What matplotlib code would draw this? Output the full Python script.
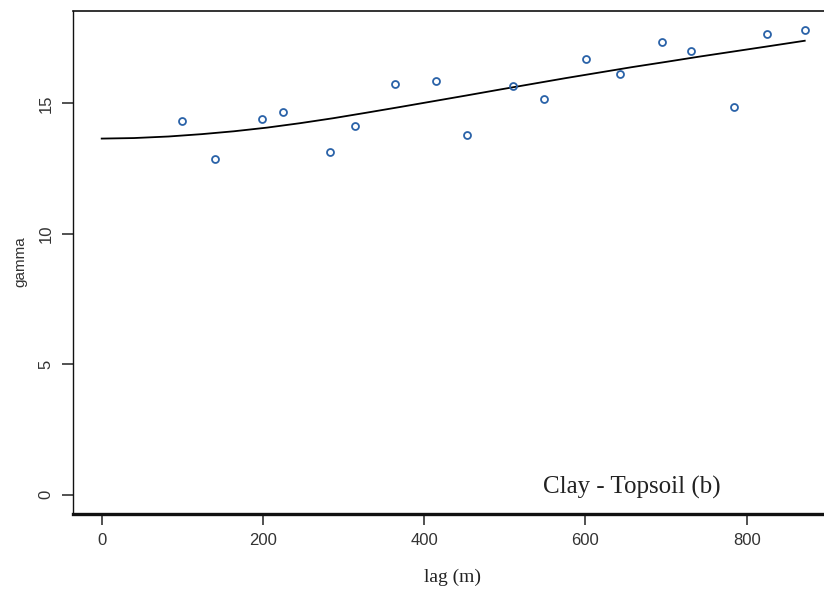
import matplotlib
matplotlib.use("Agg")
import matplotlib.pyplot as plt

# sample variogram points
lag = [99.6, 140.5, 198.8, 224.5, 283.2, 314.2, 363.8, 414.6, 452.7, 509.8,
       549.0, 600.3, 642.5, 695.3, 730.9, 784.6, 824.8, 872.4]
gamma = [14.31, 12.86, 14.39, 14.66, 13.14, 14.15, 15.74, 15.86, 13.80, 15.65,
         15.18, 16.69, 16.14, 17.34, 17.00, 14.85, 17.64, 17.82]

# fitted model curve
model_lag = [0, 40, 83, 124, 164, 205, 246, 287, 328, 370, 411, 452, 494, 535,
             576, 617, 658, 700, 741, 782, 823, 872]
model_gamma = [13.65, 13.67, 13.73, 13.82, 13.93, 14.07, 14.24, 14.43, 14.64,
               14.86, 15.08, 15.30, 15.53, 15.75, 15.97, 16.18, 16.39, 16.59,
               16.79, 16.98, 17.17, 17.40]

xticks = [0, 200, 400, 600, 800]
yticks = [0, 5, 10, 15]

fig = plt.figure(figsize=(8.24, 5.92), dpi=100)
ax = fig.add_axes([73 / 824, 1 - 513.5 / 592, 1 - 73 / 824, (513.5 - 11) / 592])

ax.plot(model_lag, model_gamma, color="black", lw=1.3, zorder=2)
ax.plot(lag, gamma, linestyle="none", marker="o", markersize=5,
        markerfacecolor="none", markeredgecolor="#2a62a8", markeredgewidth=1.3,
        zorder=3)

ax.set_xlim(-35.6, 895.9)
ax.set_ylim(-0.72, 18.54)
ax.set_xticks(xticks)
ax.set_yticks(yticks)

tick_font = {"family": "Liberation Sans", "size": 12}
ax.set_xticklabels([str(t) for t in xticks], fontdict=tick_font, color="#333333")
ax.set_yticklabels([str(t) for t in yticks], fontdict=tick_font, color="#333333",
                   rotation=90, va="center")
ax.tick_params(axis="both", direction="out", length=8, width=1.1, color="#222222")
ax.tick_params(axis="x", pad=6)
ax.tick_params(axis="y", pad=6)

ax.spines["right"].set_visible(False)
ax.spines["bottom"].set_linewidth(2.4)
ax.spines["left"].set_linewidth(1.0)
ax.spines["top"].set_linewidth(1.2)
for s in ax.spines.values():
    s.set_color("#111111")

fig.text(452 / 824, 1 - 582 / 592, "lag (m)", family="Liberation Serif",
         fontsize=14, ha="center", va="baseline", color="#222222")
fig.text(20 / 824, 1 - 262 / 592, "gamma", family="Liberation Sans",
         fontsize=11, ha="center", va="center", rotation=90, color="#333333")
fig.text(542.7 / 824, 1 - 494 / 592, "Clay - Topsoil (b)", family="Liberation Serif",
         fontsize=18, ha="left", va="baseline", color="#222222")

fig.savefig("out.png", dpi=100)
